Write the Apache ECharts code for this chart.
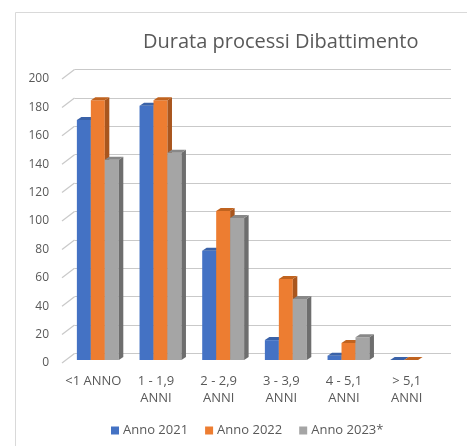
<!DOCTYPE html>
<html>
<head>
<meta charset="utf-8">
<script src="https://cdn.jsdelivr.net/npm/echarts@6/dist/echarts.min.js"></script>
<style>
  html, body { margin: 0; padding: 0; background: #fff; }
  #chart { width: 467px; height: 446px; }
</style>
</head>
<body>
<div id="chart"></div>
<script>
// categorie e valori
var categories = ['<1 ANNO', '1 - 1,9\nANNI', '2 - 2,9\nANNI', '3 - 3,9\nANNI', '4 - 5,1\nANNI', '> 5,1\nANNI'];
var anno2021 = [169, 179, 77, 14, 3, 0];
var anno2022 = [183, 183, 105, 57, 12, 0];
var anno2023 = [141, 146, 100, 43, 16, '-'];
var yTicks = [0, 20, 40, 60, 80, 100, 120, 140, 160, 180, 200];

var FONT = 'Open Sans';
var TXT = '#595959';

// colori: fronte, lato, sopra
var palette = [
  ['#4472C4', '#2F528F', '#3A62A8'],
  ['#ED7D31', '#A9561E', '#C0631F'],
  ['#A5A5A5', '#6E6E6E', '#888888']
];

function barRender(idx) {
  var col = palette[idx];
  return function (params, api) {
    var v = api.value(1);
    var base = api.coord([api.value(0), 0]);
    var top = api.coord([api.value(0), v]);
    var band = api.size([1, 0])[0];
    var w = band * 0.223;
    var x0 = base[0] + (idx - 1.5) * w;
    var x1 = x0 + w;
    var dx = 4.5, dy = 3;
    return {
      type: 'group',
      children: [
        { type: 'rect', shape: { x: x0, y: top[1], width: w, height: base[1] - top[1] }, style: { fill: col[0] } },
        { type: 'polygon', shape: { points: [[x1, top[1]], [x1 + dx, top[1] - dy], [x1 + dx, base[1] - dy], [x1, base[1]]] }, style: { fill: col[1] } },
        { type: 'polygon', shape: { points: [[x0, top[1]], [x0 + dx, top[1] - dy], [x1 + dx, top[1] - dy], [x1, top[1]]] }, style: { fill: col[2] } }
      ]
    };
  };
}

function pairs(arr) {
  return arr.map(function (v, i) { return [i, v]; });
}

var chart = echarts.init(document.getElementById('chart'));

var option = {
  animation: false,
  backgroundColor: '#fff',
  graphic: [{
    type: 'rect', left: 13, top: 10, silent: true,
    shape: { width: 470, height: 450 },
    style: { fill: 'none', stroke: '#d9d9d9', lineWidth: 1 }
  }],
  title: {
    text: 'Durata processi Dibattimento',
    left: 143, top: 32, padding: 0,
    textStyle: { fontFamily: FONT, fontSize: 20, fontWeight: 'normal', color: TXT }
  },
  legend: {
    data: ['Anno 2021', 'Anno 2022', 'Anno 2023*'],
    left: 111, top: 424, padding: 0,
    icon: 'rect', itemWidth: 8, itemHeight: 8, itemGap: 17,
    textStyle: { fontFamily: FONT, fontSize: 13, color: TXT, padding: [0, 0, 0, -1] }
  },
  grid: [
    { left: 62, right: 29, top: 79, bottom: 83 },      // piano frontale (etichette)
    { left: 66.5, right: 24.5, top: 76, bottom: 86 },  // barre
    { left: 74.5, right: 16, top: 69.5, bottom: 92.5 } // parete di fondo
  ],
  xAxis: [
    {
      gridIndex: 0, type: 'category', data: categories,
      axisLine: { show: false }, axisTick: { show: false },
      axisLabel: { fontFamily: FONT, fontSize: 13, color: TXT, margin: 10, lineHeight: 17, interval: 0 }
    },
    { gridIndex: 1, type: 'category', data: categories, show: false },
    { gridIndex: 2, type: 'category', data: categories, show: false }
  ],
  yAxis: [
    {
      gridIndex: 0, type: 'value', min: 0, max: 200, interval: 20,
      axisLine: { show: false }, axisTick: { show: false }, splitLine: { show: false },
      axisLabel: { fontFamily: FONT, fontSize: 12, color: TXT, margin: 13 }
    },
    { gridIndex: 1, type: 'value', min: 0, max: 200, interval: 20, show: false },
    {
      gridIndex: 2, type: 'value', min: 0, max: 200, interval: 20,
      axisLine: { show: false }, axisTick: { show: false }, axisLabel: { show: false },
      splitLine: { show: true, lineStyle: { color: '#c9c9c9', width: 1.2 } }
    }
  ],
  series: [
    {
      // tacche oblique dell'asse
      type: 'custom', xAxisIndex: 0, yAxisIndex: 0, silent: true,
      data: yTicks.map(function (t) { return [0, t]; }),
      renderItem: function (params, api) {
        var y = api.coord([0, api.value(1)])[1];
        var x = params.coordSys.x;
        return {
          type: 'line',
          shape: { x1: x, y1: y, x2: x + 12.5, y2: y - 9.5 },
          style: { stroke: '#c9c9c9', lineWidth: 1.2 }
        };
      }
    },
    {
      name: 'Anno 2021', type: 'custom', xAxisIndex: 1, yAxisIndex: 1,
      itemStyle: { color: palette[0][0] },
      data: pairs(anno2021), renderItem: barRender(0)
    },
    {
      name: 'Anno 2022', type: 'custom', xAxisIndex: 1, yAxisIndex: 1,
      itemStyle: { color: palette[1][0] },
      data: pairs(anno2022), renderItem: barRender(1)
    },
    {
      name: 'Anno 2023*', type: 'custom', xAxisIndex: 1, yAxisIndex: 1,
      itemStyle: { color: palette[2][0] },
      data: pairs(anno2023), renderItem: barRender(2)
    }
  ]
};

chart.setOption(option);
</script>
</body>
</html>
